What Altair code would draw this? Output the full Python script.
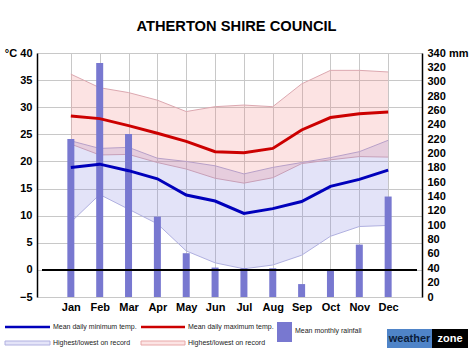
import altair as alt
import pandas as pd

months = ["Jan", "Feb", "Mar", "Apr", "May", "Jun", "Jul", "Aug", "Sep", "Oct", "Nov", "Dec"]
month_num = list(range(1, 13))
mean_max = [28.4, 27.9, 26.6, 25.2, 23.7, 21.8, 21.6, 22.4, 25.8, 28.1, 28.8, 29.1]
mean_min = [18.9, 19.5, 18.3, 16.8, 13.8, 12.7, 10.4, 11.3, 12.6, 15.4, 16.7, 18.4]
rec_max_hi = [36.1, 33.6, 32.7, 31.3, 29.2, 30.1, 30.4, 30.1, 34.3, 36.8, 36.8, 36.5]
rec_max_lo = [23.2, 21.2, 21.3, 19.8, 18.6, 16.9, 16.0, 17.0, 19.6, 20.3, 20.9, 20.8]
rec_min_hi = [23.8, 22.4, 22.6, 20.6, 20.0, 19.2, 17.7, 18.9, 19.8, 20.7, 21.8, 23.9]
rec_min_lo = [8.8, 13.9, 11.2, 8.5, 3.5, 1.3, 0.2, 0.9, 2.7, 6.2, 8.0, 8.2]
rain = [220, 326, 227, 112, 61, 41, 40, 40, 18, 39, 73, 140]

temp_ticks = list(range(-5, 41, 5))
rain_ticks = list(range(0, 341, 20))

df = pd.DataFrame({
    "m": month_num, "month": months,
    "mean_max": mean_max, "mean_min": mean_min,
    "max_hi": rec_max_hi, "max_lo": rec_max_lo,
    "min_hi": rec_min_hi, "min_lo": rec_min_lo,
    "rain": rain,
})

FONT = "Liberation Sans"
W, H = 385, 244
GRID = "#c8c8c8"

month_expr = "[" + ",".join("'%s'" % m for m in months) + "][datum.value - 1]"
x_axis = alt.Axis(values=month_num, labelExpr=month_expr, domain=False, ticks=False,
                  labelFontWeight="bold", labelFontSize=11, labelColor="black",
                  labelPadding=4, labelFlush=False, labelOverlap=False, labelBound=False,
                  grid=True, gridColor=GRID, title=None)
x_scale = alt.Scale(domain=[0, 13], nice=False, zero=False)
x_enc = alt.X("m:Q", scale=x_scale, axis=x_axis)

temp_scale = alt.Scale(domain=[-5, 40], nice=False, zero=False)
left_axis = alt.Axis(values=temp_ticks, orient="left", title=None,
                     labelExpr="datum.value == 40 ? '°C 40' : datum.label",
                     labelFontWeight="bold", labelFontSize=11, labelColor="black",
                     tickSize=0, labelPadding=5, domainColor="black", domainWidth=1.5,
                     grid=True, gridColor=GRID, labelOverlap=False, labelFlush=False)
right_axis = alt.Axis(values=rain_ticks, orient="right", title=None,
                      labelExpr="datum.value == 340 ? '340 mm' : datum.label",
                      labelFontWeight="bold", labelFontSize=11, labelColor="black",
                      tickSize=0, labelPadding=5, domainColor="black", domainWidth=1.5,
                      grid=False, labelOverlap=False, labelFlush=False)

base = alt.Chart(df)

def ty(field, axis):
    return alt.Y(field + ":Q", scale=temp_scale, axis=axis)

# Group A: record bands
red_band = base.mark_area(color="#f08080", opacity=0.22).encode(
    x=x_enc, y=ty("max_hi", left_axis), y2="max_lo:Q")
blue_band = base.mark_area(color="#8080e0", opacity=0.22).encode(
    x=x_enc, y=ty("min_hi", left_axis), y2="min_lo:Q")
edges = []
for f, c in [("max_hi", "#dca8b0"), ("max_lo", "#c8a0b8"), ("min_hi", "#b8a0c8"), ("min_lo", "#b0b0e0")]:
    edges.append(base.mark_line(color=c, strokeWidth=1).encode(x=x_enc, y=ty(f, left_axis)))
group_a = alt.layer(blue_band, red_band, *edges)

# Group B: rainfall bars
bars = base.mark_bar(color="#7878d0", size=7).encode(
    x=x_enc,
    y=alt.Y("rain:Q", scale=alt.Scale(domain=[0, 340], nice=False, zero=True), axis=right_axis),
)

# Group C: mean lines, zero line, title and legend
red_line = base.mark_line(color="#cc0000", strokeWidth=3).encode(x=x_enc, y=ty("mean_max", None))
blue_line = base.mark_line(color="#0000bb", strokeWidth=3).encode(x=x_enc, y=ty("mean_min", None))
zero_line = base.mark_rule(color="black", strokeWidth=1.5).encode(
    x=alt.datum(0, scale=x_scale, axis=x_axis), x2=alt.datum(13), y=alt.datum(0))

one = alt.Data(values=[{}])

def txt(s, x, y, size=7, weight="normal", color="#222", align="left"):
    return alt.Chart(one).mark_text(text=s, font=FONT, fontSize=size, fontWeight=weight,
                                    color=color, align=align, baseline="middle").encode(
        x=alt.value(x), y=alt.value(y))

def rule(x1, x2, y, color, w):
    return alt.Chart(one).mark_rule(color=color, strokeWidth=w).encode(
        x=alt.value(x1), x2=alt.value(x2), y=alt.value(y))

def box(x1, x2, y1, y2, fill, stroke=None):
    kw = dict(fill=fill)
    if stroke:
        kw.update(stroke=stroke, strokeWidth=1)
    return alt.Chart(one).mark_rect(**kw).encode(
        x=alt.value(x1), x2=alt.value(x2), y=alt.value(y1), y2=alt.value(y2))

title = txt("ATHERTON SHIRE COUNCIL", 199.5, -26, size=14.7, weight="bold", color="black", align="center")
legend = [
    rule(-32, 13, 274, "#0000bb", 2.5),
    txt("Mean daily minimum temp.", 16, 274),
    box(-32, 13, 288, 292, "#e4e4f8", "#b0b0e0"),
    txt("Highest/lowest on record", 16, 290),
    rule(104, 148, 274, "#cc0000", 2.5),
    txt("Mean daily maximum temp.", 151, 274),
    box(104, 148, 288, 292, "#fce4e4", "#e8a8a8"),
    txt("Highest/lowest on record", 151, 290),
    box(240, 255, 269, 289, "#7878d0"),
    txt("Mean monthly rainfall", 258, 278),
    box(350, 395, 276, 295, "#4f84c8"),
    box(395, 431, 276, 295, "#000000"),
    txt("weather", 372.5, 285.5, size=11, weight="bold", color="#0b1d3a", align="center"),
    txt("zone", 413, 285.5, size=11, weight="bold", color="white", align="center"),
]
group_c = alt.layer(red_line, blue_line, zero_line, title, *legend)

chart = alt.layer(group_a, bars, group_c).resolve_scale(y="independent").properties(
    width=W, height=H,
    autosize=alt.AutoSizeParams(type="none"),
    padding={"left": 37, "top": 53, "right": 52, "bottom": 58},
    background="white",
).configure_view(stroke=None).configure_axis(labelFont=FONT).configure_axisX(
    labelOverlap=False, labelBound=False)

chart.save("out.html", embed_options={"renderer": "svg", "actions": False})
